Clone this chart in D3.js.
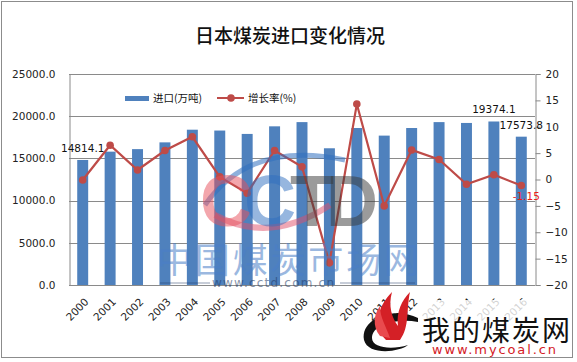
<!DOCTYPE html>
<html>
<head>
<meta charset="utf-8">
<script src="https://cdn.jsdelivr.net/npm/d3@7"></script>
<style>
body { margin: 0; background: #fff; }
text { font-family: 'DejaVu Sans', sans-serif; }
.cjk { font-family: 'Noto Sans CJK SC', sans-serif; }
</style>
</head>
<body>
<div id="chart"></div>
<script>
// data
let years = ['2000', '2001', '2002', '2003', '2004', '2005', '2006', '2007', '2008',
    '2009', '2010', '2011', '2012', '2013', '2014', '2015', '2016'];
let imports = [14814.1, 15800, 16100, 16900, 18400, 18300, 17900, 18800, 19300,
    16200, 18600, 17700, 18600, 19300, 19200, 19374.1, 17573.8];
let growth = [-0.1, 6.5, 1.8, 5.5, 8.1, 0.5, -2.6, 5.5, 2.4,
    -15.8, 14.3, -5.0, 5.6, 3.8, -0.9, 0.9, -1.15];
let leftTicks = [0, 5000, 10000, 15000, 20000, 25000];
let rightTicks = [-20, -15, -10, -5, 0, 5, 10, 15, 20];
let labelledBars = ['2000', '2015', '2016'];
let labelledPoints = ['2016'];

let width = 577, height = 362;
let plot = {left: 69, right: 535, top: 74, bottom: 285};

let svg = d3.select('#chart')
    .append('svg')
    .attr('width', width)
    .attr('height', height);

// outer frame
svg.append('rect')
    .attr('x', 1.5).attr('y', 1.5)
    .attr('width', 571).attr('height', 356)
    .attr('fill', '#fff')
    .attr('stroke', '#8c8c8c');

let x = d3.scaleBand()
    .domain(years)
    .range([plot.left, plot.right])
    .paddingInner(0.6)
    .paddingOuter(0.3);

let yLeft = d3.scaleLinear().domain([0, 25000]).range([plot.bottom, plot.top]);
let yRight = d3.scaleLinear().domain([-20, 20]).range([plot.bottom, plot.top]);

// title
svg.append('text')
    .attr('class', 'cjk')
    .attr('x', 290).attr('y', 43)
    .attr('text-anchor', 'middle')
    .style('font-size', '19px')
    .style('font-weight', 500)
    .attr('fill', '#111')
    .text('日本煤炭进口变化情况');

// gridlines
svg.append('g')
    .selectAll('line')
    .data(leftTicks)
    .enter()
    .append('line')
    .attr('x1', plot.left).attr('x2', plot.right)
    .attr('y1', d => Math.round(yLeft(d)) + 0.5)
    .attr('y2', d => Math.round(yLeft(d)) + 0.5)
    .attr('stroke', '#8a8a8a');

// left axis
let leftAxis = svg.append('g')
    .attr('transform', 'translate(' + (plot.left + 0.5) + ',0)')
    .call(d3.axisLeft(yLeft).tickValues(leftTicks).tickSize(0).tickPadding(14)
        .tickFormat(d3.format('.1f')));
leftAxis.select('.domain').attr('stroke', '#8a8a8a');
leftAxis.selectAll('text').style('font-size', '10.5px').attr('fill', '#222');

// right axis
let rightAxis = svg.append('g')
    .attr('transform', 'translate(' + (plot.right + 0.5) + ',0)')
    .call(d3.axisRight(yRight).tickValues(rightTicks).tickSize(5).tickPadding(5));
rightAxis.select('.domain').attr('stroke', '#8a8a8a');
rightAxis.selectAll('line').attr('stroke', '#8a8a8a');
rightAxis.selectAll('text').style('font-size', '10.5px').attr('fill', '#222');

// bars
svg.append('g')
    .selectAll('rect')
    .data(years)
    .enter()
    .append('rect')
    .attr('x', d => x(d))
    .attr('y', (d, i) => yLeft(imports[i]))
    .attr('width', x.bandwidth())
    .attr('height', (d, i) => plot.bottom - yLeft(imports[i]))
    .attr('fill', '#4f81bd');

// bar labels
svg.append('g')
    .selectAll('text')
    .data(labelledBars)
    .enter()
    .append('text')
    .attr('x', d => x(d) + x.bandwidth() / 2)
    .attr('y', d => yLeft(imports[years.indexOf(d)]) - 8)
    .attr('text-anchor', 'middle')
    .style('font-size', '10.5px')
    .attr('fill', '#111')
    .text(d => d3.format('.1f')(imports[years.indexOf(d)]));

// growth line
let cx = d => x(d) + x.bandwidth() / 2;
let line = d3.line()
    .x(d => cx(d))
    .y((d, i) => yRight(growth[i]));

svg.append('path')
    .datum(years)
    .attr('d', line)
    .attr('fill', 'none')
    .attr('stroke', '#be4b48')
    .attr('stroke-width', 2.2);

svg.append('g')
    .selectAll('circle')
    .data(years)
    .enter()
    .append('circle')
    .attr('cx', d => cx(d))
    .attr('cy', (d, i) => yRight(growth[i]))
    .attr('r', 3.8)
    .attr('fill', '#be4b48');

svg.append('g')
    .selectAll('text')
    .data(labelledPoints)
    .enter()
    .append('text')
    .attr('x', d => cx(d) + 5)
    .attr('y', d => yRight(growth[years.indexOf(d)]) + 14)
    .attr('text-anchor', 'middle')
    .style('font-size', '10.5px')
    .attr('fill', '#e8201a')
    .text(d => growth[years.indexOf(d)]);

// x labels
svg.append('g')
    .selectAll('text')
    .data(years)
    .enter()
    .append('text')
    .attr('transform', d => 'translate(' + (cx(d) + 4) + ',300) rotate(-45)')
    .attr('text-anchor', 'end')
    .attr('dy', '0.35em')
    .style('font-size', '10.5px')
    .attr('fill', '#222')
    .text(d => d);

// legend
let legend = svg.append('g');
legend.append('rect')
    .attr('x', 125).attr('y', 96)
    .attr('width', 24).attr('height', 5)
    .attr('fill', '#4f81bd');
legend.append('text')
    .attr('class', 'cjk')
    .attr('x', 153).attr('y', 102)
    .style('font-size', '10.5px')
    .attr('fill', '#111')
    .text('进口(万吨)');
legend.append('line')
    .attr('x1', 217).attr('x2', 244)
    .attr('y1', 98).attr('y2', 98)
    .attr('stroke', '#be4b48')
    .attr('stroke-width', 2);
legend.append('circle')
    .attr('cx', 231).attr('cy', 98).attr('r', 3.8)
    .attr('fill', '#be4b48');
legend.append('text')
    .attr('class', 'cjk')
    .attr('x', 248).attr('y', 102)
    .style('font-size', '10.5px')
    .attr('fill', '#111')
    .text('增长率(%)');

// cctd watermark
let wm = svg.append('g');
wm.append('path')
    .attr('d', 'M205,205 Q250,140 345,160')
    .attr('fill', 'none')
    .attr('stroke', '#2f6fc0')
    .attr('stroke-width', 5)
    .attr('opacity', 0.55);
wm.append('path')
    .attr('d', 'M215,215 Q270,245 330,205')
    .attr('fill', 'none')
    .attr('stroke', '#e0506a')
    .attr('stroke-width', 6)
    .attr('opacity', 0.5);
let cctd = [['C', 200, '#e8505b'], ['C', 244, '#2f6fc0'], ['T', 290, '#3a3a3a'], ['D', 326, '#3a3a3a']];
wm.selectAll('text.cctd')
    .data(cctd)
    .enter()
    .append('text')
    .attr('class', 'cctd')
    .attr('x', d => d[1]).attr('y', 226)
    .style('font-family', "'Liberation Sans', sans-serif")
    .style('font-size', '72px')
    .style('font-weight', 'bold')
    .attr('fill', d => d[2])
    .attr('opacity', 0.5)
    .text(d => d[0]);
wm.append('text')
    .attr('class', 'cjk')
    .attr('x', 157).attr('y', 273)
    .attr('textLength', 262)
    .style('font-size', '35px')
    .attr('fill', '#4a7fc8')
    .attr('opacity', 0.55)
    .text('中国煤炭市场网');
wm.append('text')
    .attr('x', 212).attr('y', 287)
    .attr('textLength', 122)
    .style('font-size', '12px')
    .attr('fill', '#223a66')
    .attr('opacity', 0.55)
    .text('www.cctd.com.cn');
wm.append('line')
    .attr('x1', 160).attr('x2', 210).attr('y1', 283).attr('y2', 283)
    .attr('stroke', '#223a66').attr('opacity', 0.5);
wm.append('line')
    .attr('x1', 340).attr('x2', 415).attr('y1', 283).attr('y2', 283)
    .attr('stroke', '#223a66').attr('opacity', 0.5);

// mycoal logo
let logo = svg.append('g');
logo.append('rect')
    .attr('x', 420).attr('y', 300)
    .attr('width', 150).attr('height', 56)
    .attr('fill', '#fff')
    .attr('opacity', 0.8);
logo.append('path')
    .attr('d', 'M418,318 C395,306 360,318 364,340 C368,356 400,352 408,345 C392,350 372,348 372,338 C372,324 398,318 418,322 Z')
    .attr('fill', '#111');
logo.append('path')
    .attr('d', 'M386,340 C372,326 378,306 392,292 C388,306 392,318 398,326 C396,312 402,300 410,292 C406,310 410,326 400,340 Z')
    .attr('fill', '#d42026');
logo.append('path')
    .attr('d', 'M380,336 C372,326 374,314 380,306 C380,318 386,326 390,338 Z')
    .attr('fill', '#e94a4e');
logo.append('text')
    .attr('class', 'cjk')
    .attr('x', 422).attr('y', 341)
    .attr('textLength', 148)
    .style('font-size', '28px')
    .attr('fill', '#111')
    .text('我的煤炭网');
logo.append('text')
    .attr('x', 432).attr('y', 354)
    .attr('textLength', 124)
    .style('font-size', '13px')
    .attr('fill', '#d42026')
    .text('www.mycoal.cn');
</script>
</body>
</html>
